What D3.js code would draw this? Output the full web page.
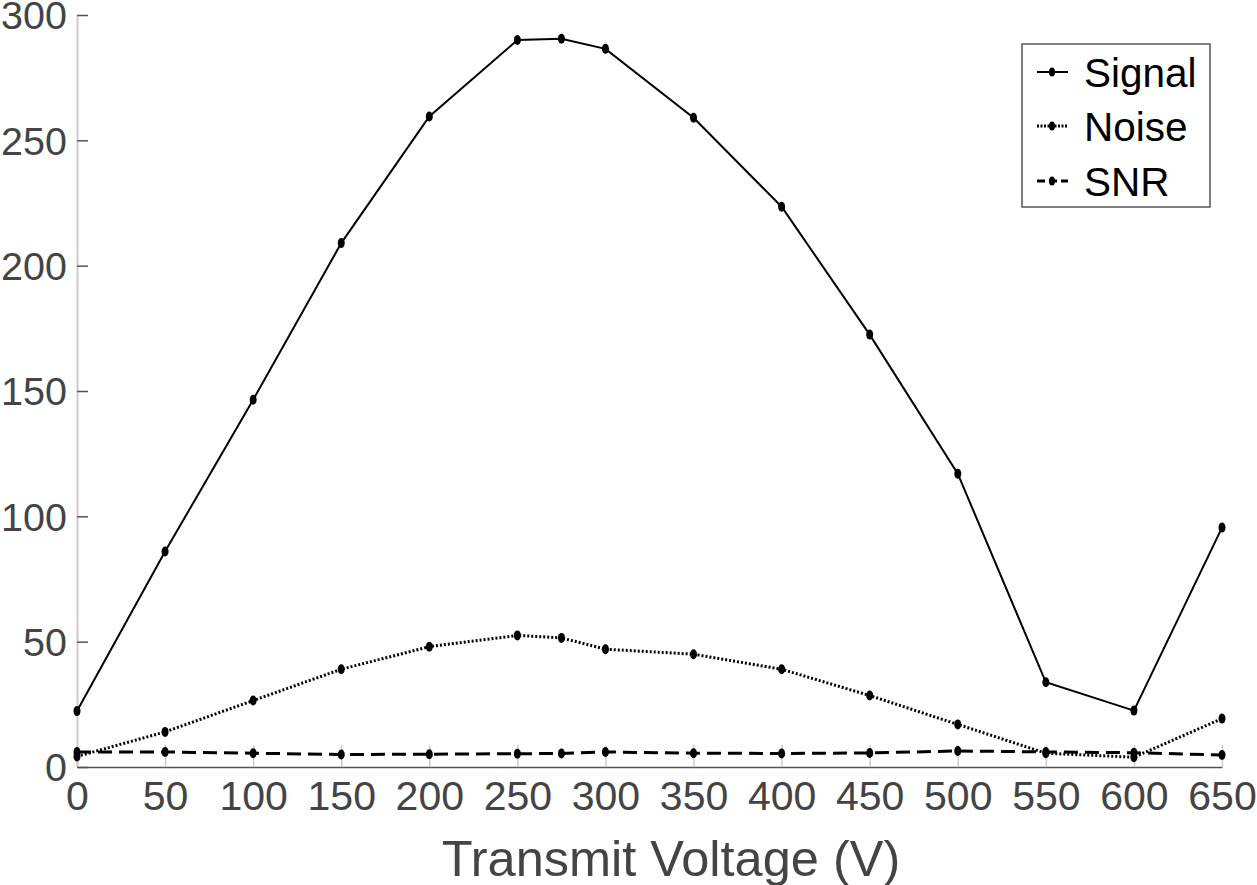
<!DOCTYPE html>
<html><head><meta charset="utf-8">
<script src="https://cdn.jsdelivr.net/npm/d3@7"></script>
<style>body{margin:0;background:#fff}svg{display:block}</style>
</head><body>
<script>
const voltages = [0,50,100,150,200,250,275,300,350,400,450,500,550,600,650];
const signal = [22.3,86,146.5,209,259.5,290,290.5,286.5,259,223.5,172.5,117,33.8,22.5,95.5];
const noise  = [4.2,14,26.5,39,48,52.5,51.5,47,45,39,28.5,17,5.5,3.9,19.3];
const snr    = [6,6,5.5,5,5.1,5.3,5.4,6,5.5,5.4,5.6,6.4,6,5.7,4.8];
const xTicks = [0,50,100,150,200,250,300,350,400,450,500,550,600,650];
const yTicks = [0,50,100,150,200,250,300];
const seriesNames = ["Signal","Noise","SNR"];

const W=1257,H=885;
const svg=d3.select("body").append("svg").attr("width",W).attr("height",H);
const x=d3.scaleLinear().domain([0,650]).range([77,1222]);
const y=d3.scaleLinear().domain([0,300]).range([767,15]);
const font="Liberation Sans, Arial, sans-serif";

const xa=svg.append("g").attr("transform","translate(0,767)")
  .call(d3.axisBottom(x).tickValues(xTicks).tickSizeInner(-22).tickSizeOuter(0).tickPadding(14));
xa.select(".domain").attr("stroke","#555").attr("stroke-width",1.5);
xa.selectAll(".tick line").attr("stroke","#ccc").attr("stroke-width",1.5);
xa.selectAll(".tick text").attr("font-family",font).attr("font-size",41).attr("fill","#444").attr("dy","0.71em");

const ya=svg.append("g").attr("transform","translate(77,0)")
  .call(d3.axisLeft(y).tickValues(yTicks).tickSizeInner(-11).tickSizeOuter(0).tickPadding(10));
ya.select(".domain").attr("stroke","#ccc").attr("stroke-width",2);
ya.selectAll(".tick line").attr("stroke","#555").attr("stroke-width",1.5);
ya.selectAll(".tick text").attr("font-family",font).attr("font-size",39.5).attr("fill","#444").attr("dy","0.35em");

svg.append("text").attr("x",671).attr("y",876).attr("text-anchor","middle")
  .attr("font-family",font).attr("font-size",50.5).attr("fill","#444").text("Transmit Voltage (V)");

const styles=[
  {data:signal,dash:null,w:2},
  {data:noise,dash:"2,2",w:3},
  {data:snr,dash:"14,7",w:3}
];
const line=d3.line().x(d=>x(d[0])).y(d=>y(d[1]));
styles.forEach(s=>{
  const pts=voltages.map((v,i)=>[v,s.data[i]]);
  svg.append("path").datum(pts).attr("d",line).attr("fill","none").attr("stroke","#000")
    .attr("stroke-width",s.w).attr("stroke-dasharray",s.dash);
  svg.append("g").selectAll("ellipse").data(pts).join("ellipse")
    .attr("cx",d=>x(d[0])).attr("cy",d=>y(d[1])).attr("rx",3.5).attr("ry",5).attr("fill","#000");
});

const lg=svg.append("g");
lg.append("rect").attr("x",1022).attr("y",44).attr("width",188).attr("height",163)
  .attr("fill","#fff").attr("stroke","#555").attr("stroke-width",1.5);
const ly=[72,126,181];
styles.forEach((s,i)=>{
  lg.append("line").attr("x1",1037).attr("x2",1068).attr("y1",ly[i]).attr("y2",ly[i])
    .attr("stroke","#000").attr("stroke-width",s.w).attr("stroke-dasharray",s.dash?(i==1?"2,1.5":"8,4"):null);
  lg.append("ellipse").attr("cx",1052).attr("cy",ly[i]).attr("rx",3).attr("ry",4.5).attr("fill","#000");
  lg.append("text").attr("x",1084).attr("y",ly[i]).attr("dy","0.36em").attr("font-family",font)
    .attr("font-size",40.5).attr("fill","#000").text(seriesNames[i]);
});
</script>
</body></html>
